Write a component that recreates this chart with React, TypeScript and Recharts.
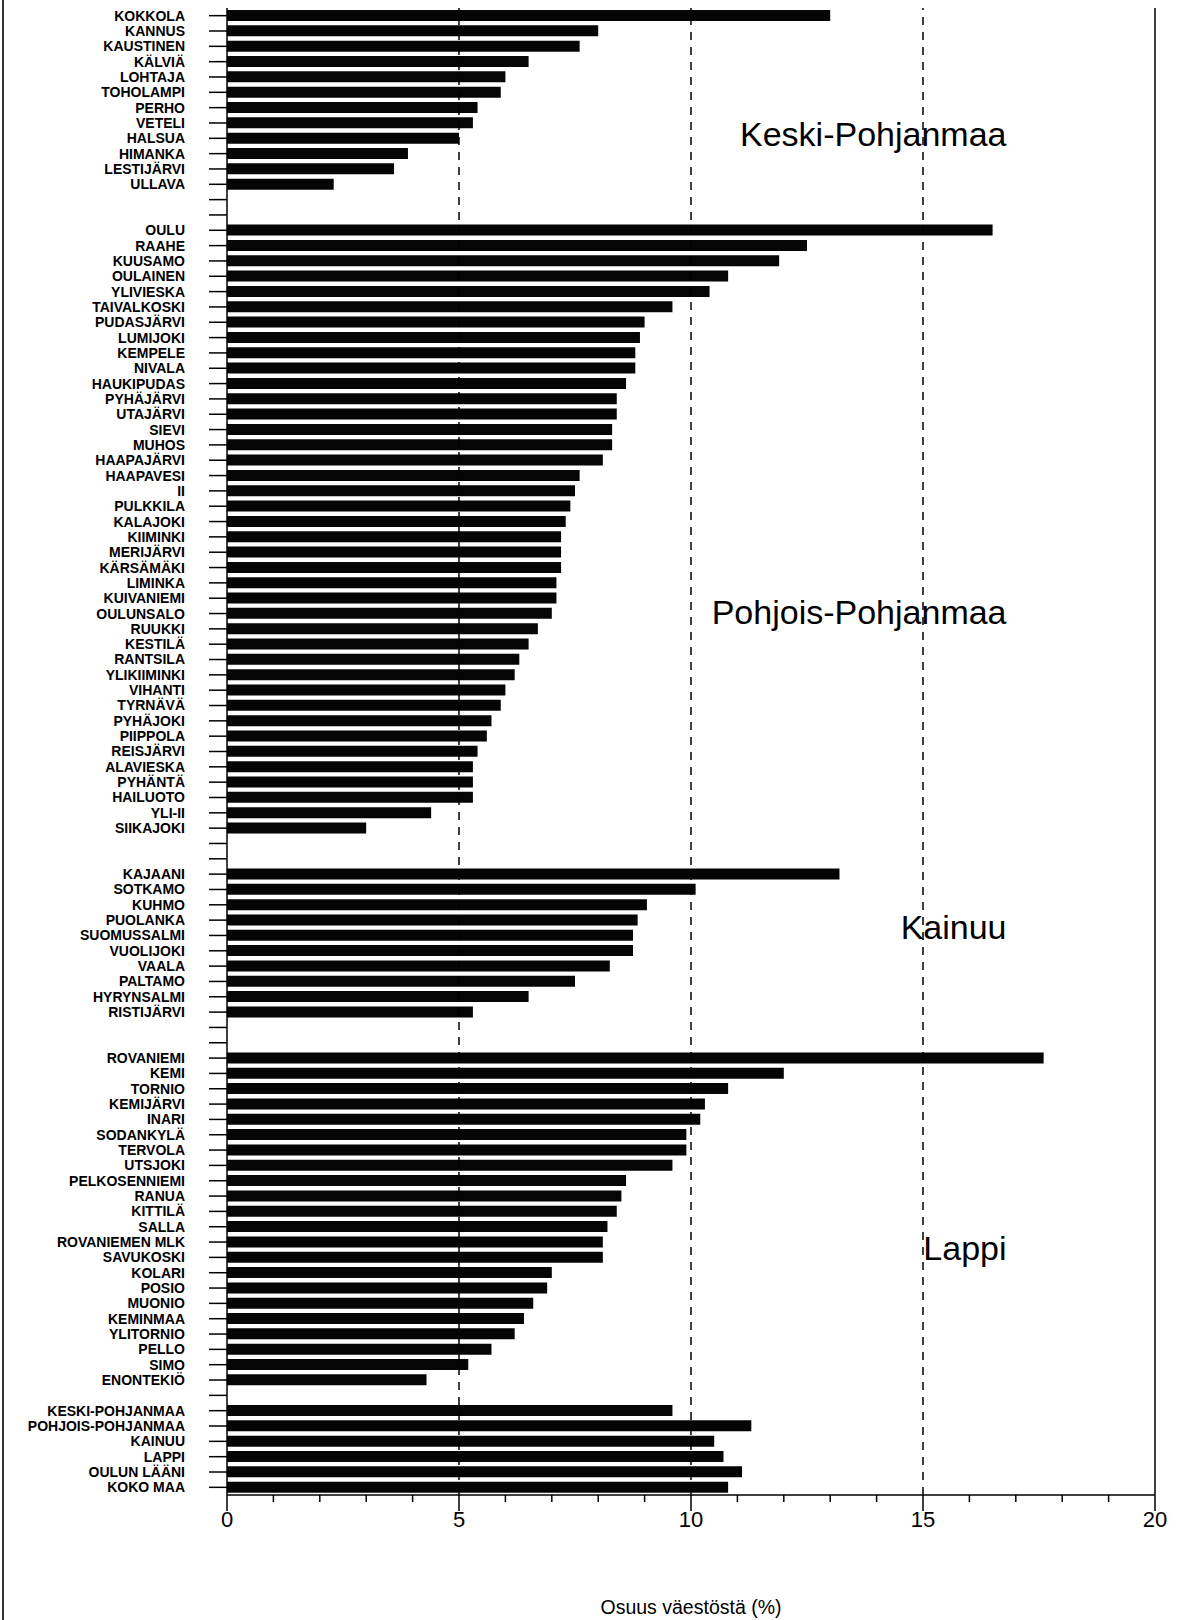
import { BarChart, Bar, XAxis, YAxis, ReferenceLine, ReferenceDot } from 'recharts';

const FONT = '"Liberation Sans", Arial, Helvetica, sans-serif';

// Keski-Pohjanmaa
const keskiNames = ['KOKKOLA', 'KANNUS', 'KAUSTINEN', 'KÄLVIÄ', 'LOHTAJA', 'TOHOLAMPI', 'PERHO', 'VETELI', 'HALSUA', 'HIMANKA', 'LESTIJÄRVI', 'ULLAVA'];
const keskiValues = [13.0, 8.0, 7.6, 6.5, 6.0, 5.9, 5.4, 5.3, 5.0, 3.9, 3.6, 2.3];

// Pohjois-Pohjanmaa
const pohjoisNames = [
  'OULU', 'RAAHE', 'KUUSAMO', 'OULAINEN', 'YLIVIESKA', 'TAIVALKOSKI', 'PUDASJÄRVI', 'LUMIJOKI', 'KEMPELE', 'NIVALA',
  'HAUKIPUDAS', 'PYHÄJÄRVI', 'UTAJÄRVI', 'SIEVI', 'MUHOS', 'HAAPAJÄRVI', 'HAAPAVESI', 'II', 'PULKKILA', 'KALAJOKI',
  'KIIMINKI', 'MERIJÄRVI', 'KÄRSÄMÄKI', 'LIMINKA', 'KUIVANIEMI', 'OULUNSALO', 'RUUKKI', 'KESTILÄ', 'RANTSILA', 'YLIKIIMINKI',
  'VIHANTI', 'TYRNÄVÄ', 'PYHÄJOKI', 'PIIPPOLA', 'REISJÄRVI', 'ALAVIESKA', 'PYHÄNTÄ', 'HAILUOTO', 'YLI-II', 'SIIKAJOKI',
];
const pohjoisValues = [
  16.5, 12.5, 11.9, 10.8, 10.4, 9.6, 9.0, 8.9, 8.8, 8.8,
  8.6, 8.4, 8.4, 8.3, 8.3, 8.1, 7.6, 7.5, 7.4, 7.3,
  7.2, 7.2, 7.2, 7.1, 7.1, 7.0, 6.7, 6.5, 6.3, 6.2,
  6.0, 5.9, 5.7, 5.6, 5.4, 5.3, 5.3, 5.3, 4.4, 3.0,
];

// Kainuu
const kainuuNames = ['KAJAANI', 'SOTKAMO', 'KUHMO', 'PUOLANKA', 'SUOMUSSALMI', 'VUOLIJOKI', 'VAALA', 'PALTAMO', 'HYRYNSALMI', 'RISTIJÄRVI'];
const kainuuValues = [13.2, 10.1, 9.05, 8.85, 8.75, 8.75, 8.25, 7.5, 6.5, 5.3];

// Lappi
const lappiNames = [
  'ROVANIEMI', 'KEMI', 'TORNIO', 'KEMIJÄRVI', 'INARI', 'SODANKYLÄ', 'TERVOLA', 'UTSJOKI', 'PELKOSENNIEMI', 'RANUA', 'KITTILÄ',
  'SALLA', 'ROVANIEMEN MLK', 'SAVUKOSKI', 'KOLARI', 'POSIO', 'MUONIO', 'KEMINMAA', 'YLITORNIO', 'PELLO', 'SIMO', 'ENONTEKIÖ',
];
const lappiValues = [17.6, 12.0, 10.8, 10.3, 10.2, 9.9, 9.9, 9.6, 8.6, 8.5, 8.4, 8.2, 8.1, 8.1, 7.0, 6.9, 6.6, 6.4, 6.2, 5.7, 5.2, 4.3];

// yhteenveto
const summaryNames = ['KESKI-POHJANMAA', 'POHJOIS-POHJANMAA', 'KAINUU', 'LAPPI', 'OULUN LÄÄNI', 'KOKO MAA'];
const summaryValues = [9.6, 11.3, 10.5, 10.7, 11.1, 10.8];

// tyhjiä rivejä ryhmien väliin
const gapsAfter = [2, 2, 2, 1, 0];

const xTicks = [0, 1, 2, 3, 4, 5, 6, 7, 8, 9, 10, 11, 12, 13, 14, 15, 16, 17, 18, 19, 20];
const xLabels = [0, 5, 10, 15, 20];
const gridValues = [5, 10, 15];

const regionLabels = [
  { text: 'Keski-Pohjanmaa', at: 'HALSUA', shift: -4 },
  { text: 'Pohjois-Pohjanmaa', at: 'OULUNSALO', shift: -2 },
  { text: 'Kainuu', at: 'SUOMUSSALMI', shift: -8 },
  { text: 'Lappi', at: 'ROVANIEMEN MLK', shift: 6 },
];

const groups: [string[], number[]][] = [
  [keskiNames, keskiValues],
  [pohjoisNames, pohjoisValues],
  [kainuuNames, kainuuValues],
  [lappiNames, lappiValues],
  [summaryNames, summaryValues],
];

const rows: { name: string; value: number | null }[] = [];
let gapNo = 0;
groups.forEach(([names, values], gi) => {
  names.forEach((n, i) => rows.push({ name: n, value: values[i] }));
  for (let k = 0; k < gapsAfter[gi]; k++) rows.push({ name: `_gap${gapNo++}`, value: null });
});

function XTick(props: any) {
  const { x, y, payload } = props;
  const v = payload.value;
  const major = xLabels.includes(v);
  return (
    <g>
      <line x1={x} y1={y} x2={x} y2={y + (major ? 16 : 7)} stroke="#000" strokeWidth={1.5} />
      {major && (
        <text x={x} y={y + 24} textAnchor="middle" dominantBaseline="central" fontSize={22} fill="#000" fontFamily={FONT}>
          {v}
        </text>
      )}
    </g>
  );
}

function RegionLabel(props: any) {
  const { viewBox, text, shift } = props;
  if (!viewBox) return null;
  const cx = viewBox.x + (viewBox.width || 0) / 2;
  const cy = viewBox.y + (viewBox.height || 0) / 2;
  return (
    <text x={cx} y={cy + shift} textAnchor="end" dominantBaseline="central" fontSize={34} fill="#000" fontFamily={FONT}>
      {text}
    </text>
  );
}

export default function App() {
  return (
    <div style={{ position: 'absolute', left: 0, top: 0, width: 1181, height: 1620, background: '#fff' }}>
      <div style={{ position: 'absolute', left: 2, top: 0, width: 2, height: 1620, background: '#333' }} />
      <BarChart
        width={1181}
        height={1620}
        data={rows}
        layout="vertical"
        margin={{ top: 8, right: 26, bottom: 0, left: 0 }}
        barSize={11}
      >
        <XAxis
          type="number"
          domain={[0, 20]}
          ticks={xTicks}
          interval={0}
          height={125}
          tickSize={0}
          tickMargin={0}
          tickLine={false}
          tick={<XTick />}
          axisLine={{ stroke: '#000', strokeWidth: 1.5 }}
          label={{ value: 'Osuus väestöstä (%)', position: 'insideBottom', offset: 6, fontSize: 19.5, fill: '#000', fontFamily: FONT }}
        />
        <XAxis
          xAxisId="top"
          orientation="top"
          type="number"
          domain={[0, 20]}
          height={0}
          tick={false}
          tickLine={false}
          axisLine={{ stroke: '#000', strokeWidth: 1.5 }}
        />
        <YAxis
          type="category"
          dataKey="name"
          width={227}
          interval={0}
          tickSize={18}
          tickMargin={24}
          tickFormatter={(v: string) => (v.startsWith('_') ? '' : v)}
          tick={{ fontSize: 14, fontWeight: 700, fill: '#000', fontFamily: FONT }}
          tickLine={{ stroke: '#000', strokeWidth: 1.5 }}
          axisLine={{ stroke: '#000', strokeWidth: 1.5 }}
        />
        {gridValues.map((g) => (
          <ReferenceLine key={g} x={g} stroke="#000" strokeWidth={1.5} strokeDasharray="8 7" />
        ))}
        <ReferenceLine x={20} stroke="#000" strokeWidth={1.5} />
        <Bar dataKey="value" fill="#050505" isAnimationActive={false} />
        {regionLabels.map((r) => (
          <ReferenceDot
            key={r.text}
            x={16.8}
            y={r.at}
            r={0}
            fill="none"
            stroke="none"
            label={<RegionLabel text={r.text} shift={r.shift} />}
          />
        ))}
      </BarChart>
    </div>
  );
}
